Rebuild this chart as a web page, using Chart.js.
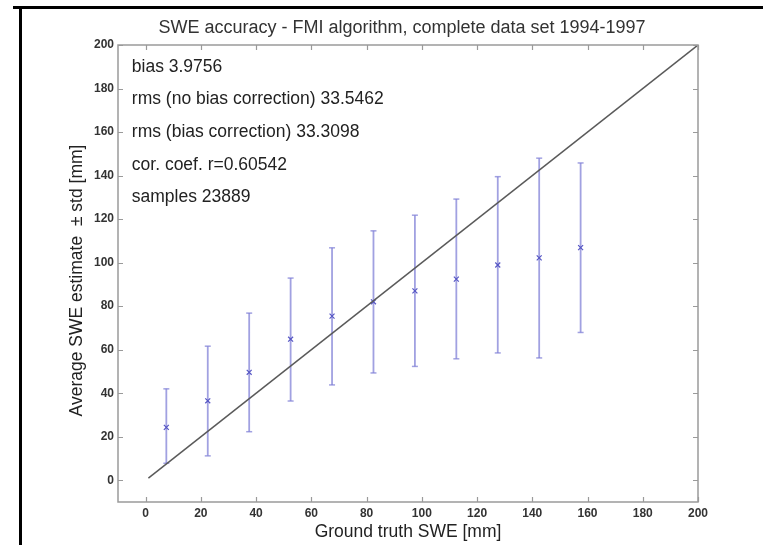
<!DOCTYPE html>
<html>
<head>
<meta charset="utf-8">
<title>SWE accuracy</title>
<script src="https://cdn.jsdelivr.net/npm/chart.js@4/dist/chart.umd.min.js"></script>
<style>
    html, body { margin: 0; padding: 0; background: #fff; }
    #sweChart { display: block; }
</style>
</head>
<body>
<canvas id="sweChart" width="763" height="545"></canvas>
<script>
// Bin centres of ground truth SWE [mm]
const binCentres = [7.5, 22.5, 37.5, 52.5, 67.5, 82.5, 97.5, 112.5, 127.5, 142.5, 157.5];
// Average SWE estimate in each bin
const meanEstimate = [24.3, 36.5, 49.6, 64.8, 75.4, 82.0, 87.0, 92.4, 98.9, 102.2, 106.9];
// mean - std and mean + std
const lowerStd = [7.8, 11.2, 22.3, 36.4, 43.8, 49.3, 52.3, 55.8, 58.5, 56.2, 67.9];
const upperStd = [42.0, 61.6, 76.8, 92.9, 106.8, 114.6, 121.8, 129.2, 139.5, 148.0, 145.8];
// 1:1 reference line
const refLineX = [1, 200];
const refLineY = [1, 200];

const xTickValues = [0, 20, 40, 60, 80, 100, 120, 140, 160, 180, 200];
const yTickValues = [0, 20, 40, 60, 80, 100, 120, 140, 160, 180, 200];

const chartTitle = 'SWE accuracy - FMI algorithm, complete data set 1994-1997';
const yAxisTitle = 'Average SWE estimate  \u00b1 std [mm]';
const statsLines = [
    'bias 3.9756',
    'rms (no bias correction) 33.5462',
    'rms (bias correction) 33.3098',
    'cor. coef. r=0.60542',
    'samples 23889'
];

const axisGrey = '#9a9a9a';
const fontFamily = '"Liberation Sans", Arial, Helvetica, sans-serif';

// error bars as one line dataset, broken by null points
function buildErrorBars() {
    const pts = [];
    binCentres.forEach((x, i) => {
        pts.push({ x: x, y: lowerStd[i] });
        pts.push({ x: x, y: upperStd[i] });
        pts.push({ x: x, y: null });
    });
    return pts;
}

// Frame, inward ticks, page border, titles and the stats text
const framePlugin = {
    id: 'matlabFrame',
    beforeDraw(chart) {
        const c = chart.ctx;
        c.save();
        c.fillStyle = '#fff';
        c.fillRect(0, 0, chart.width, chart.height);
        c.fillStyle = '#000';
        c.fillRect(13, 6, chart.width - 13, 3);
        c.fillRect(19, 6, 3, chart.height - 6);
        c.restore();
    },
    afterDatasetsDraw(chart) {
        const c = chart.ctx;
        const a = chart.chartArea;
        const xs = chart.scales.x;
        const ys = chart.scales.y;
        c.save();
        c.strokeStyle = axisGrey;
        c.lineWidth = 1.5;
        c.strokeRect(a.left, a.top, a.right - a.left, a.bottom - a.top);
        c.lineWidth = 1.2;
        c.beginPath();
        xTickValues.forEach(v => {
            const px = Math.round(xs.getPixelForValue(v)) + 0.5;
            c.moveTo(px, a.bottom); c.lineTo(px, a.bottom - 5);
            c.moveTo(px, a.top); c.lineTo(px, a.top + 5);
        });
        yTickValues.forEach(v => {
            const py = Math.round(ys.getPixelForValue(v)) + 0.5;
            c.moveTo(a.left, py); c.lineTo(a.left + 5, py);
            c.moveTo(a.right, py); c.lineTo(a.right - 5, py);
        });
        c.stroke();

        c.fillStyle = '#333';
        c.textBaseline = 'middle';
        c.textAlign = 'center';
        c.font = '18px ' + fontFamily;
        c.fillText(chartTitle, (a.left + a.right) / 2 - 6, 28);

        // y axis title, a little below the middle of the axis as in the original
        c.fillStyle = '#222';
        c.font = '17.5px ' + fontFamily;
        c.save();
        c.translate(77, (a.top + a.bottom) / 2 + 7);
        c.rotate(-Math.PI / 2);
        c.fillText(yAxisTitle, 0, 0);
        c.restore();

        c.textAlign = 'left';
        statsLines.forEach((txt, i) => {
            c.fillText(txt, xs.getPixelForValue(-5), ys.getPixelForValue(190 - 15 * i));
        });
        c.restore();
    }
};

function fixedWidth(w) { return axis => { axis.width = w; }; }
function fixedHeight(h) { return axis => { axis.height = h; }; }

const ctx = document.getElementById('sweChart').getContext('2d');
new Chart(ctx, {
    data: {
        datasets: [
            {
                type: 'line',
                label: 'std',
                data: buildErrorBars(),
                borderColor: 'rgba(130, 130, 215, 0.75)',
                borderWidth: 1.8,
                pointStyle: 'line',
                pointRadius: 3,
                pointBorderColor: 'rgba(130, 130, 215, 0.75)',
                pointBorderWidth: 1.5,
                spanGaps: false,
                order: 3
            },
            {
                type: 'scatter',
                label: 'mean',
                data: binCentres.map((x, i) => ({ x: x, y: meanEstimate[i] })),
                pointStyle: 'crossRot',
                pointRadius: 3.5,
                borderColor: '#5656c4',
                pointBorderWidth: 1.2,
                order: 2
            },
            {
                type: 'line',
                label: '1:1',
                data: refLineX.map((x, i) => ({ x: x, y: refLineY[i] })),
                borderColor: '#5a5a5a',
                borderWidth: 1.5,
                pointRadius: 0,
                order: 1
            }
        ]
    },
    options: {
        responsive: false,
        animation: false,
        devicePixelRatio: 1,
        layout: { padding: { left: 62, right: 65, top: 45, bottom: 0 } },
        plugins: {
            legend: { display: false },
            tooltip: { enabled: false },
            title: { display: false }
        },
        scales: {
            x: {
                type: 'linear',
                min: -10,
                max: 200,
                afterBuildTicks: axis => { axis.ticks = xTickValues.map(v => ({ value: v })); },
                afterFit: fixedHeight(43),
                grid: { display: false, drawTicks: false },
                border: { display: false },
                ticks: {
                    color: '#333',
                    padding: 4,
                    font: { family: fontFamily, size: 12, weight: 'bold' }
                },
                title: {
                    display: true,
                    text: 'Ground truth SWE [mm]',
                    color: '#222',
                    padding: { top: 0, bottom: 2.5 },
                    font: { family: fontFamily, size: 17.5 }
                }
            },
            y: {
                type: 'linear',
                min: -10,
                max: 200,
                afterBuildTicks: axis => { axis.ticks = yTickValues.map(v => ({ value: v })); },
                afterFit: fixedWidth(56),
                grid: { display: false, drawTicks: false },
                border: { display: false },
                ticks: {
                    color: '#333',
                    padding: 4,
                    font: { family: fontFamily, size: 12, weight: 'bold' }
                },
                title: { display: false }
            }
        }
    },
    plugins: [framePlugin]
});
</script>
</body>
</html>
